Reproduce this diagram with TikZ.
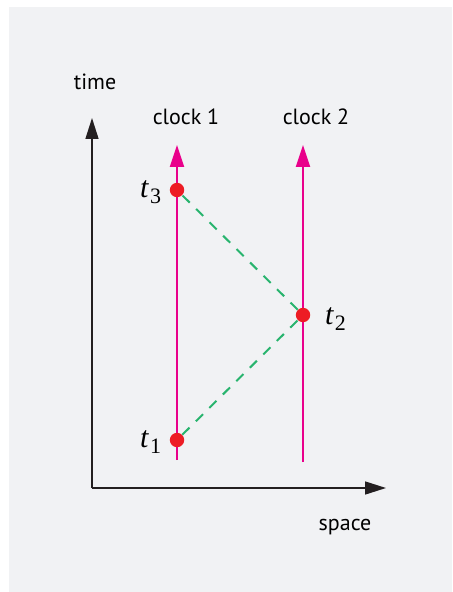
\documentclass[tikz,border=0pt]{standalone}
\usepackage{fontspec}
\setmainfont{PT Sans}
\newfontfamily\evfont{Liberation Serif}
\usepackage{tikz}
\usetikzlibrary{positioning, arrows.meta}
\definecolor{PanelGrey}{RGB}{241,242,244}
\definecolor{AxisBlack}{RGB}{35,31,32}
\definecolor{ClockPink}{RGB}{233,0,139}
\definecolor{EventRed}{RGB}{237,28,36}
\definecolor{SignalGreen}{RGB}{40,180,110}
\newcommand{\evt}[1]{{\itshape t}\kern0.8pt\raisebox{-0.45ex}{\fontsize{11}{13}\selectfont #1}}
\tikzset{
  axis/.style={-{Triangle[length=10.5pt, width=6.5pt]}, line width=0.75pt, AxisBlack},
  worldline/.style={-{Triangle[length=11pt, width=7pt]}, line width=1pt, ClockPink},
  eventdot/.style={circle, fill=EventRed, minimum size=7.2pt, inner sep=0pt},
  signal/.style={dash pattern=on 5pt off 4.5pt, line width=1pt, SignalGreen},
  axlabel/.style={font=\fontsize{11}{13}\selectfont, inner sep=0pt},
  evlabel/.style={font=\evfont\fontsize{15}{17}\selectfont, inner sep=0pt},
}

\begin{document}
\begin{tikzpicture}[x=0.5pt, y=-0.5pt]
  \useasboundingbox (0,0) rectangle (452,592);
  \fill[PanelGrey] (9,7) rectangle (452,592);

  % axes
  \coordinate (origin) at (92,488);
  \coordinate (timeend) at (92,118);
  \coordinate (spaceend) at (386,488);
  \draw[axis] (origin) -- (timeend);
  \draw[axis] (origin) -- (spaceend);
  \node[axlabel] (timelab) at (95,82) {time};
  \node[axlabel] (spacelab) at (345,527) {space};

  % clocks
  \coordinate (c1bot) at (177,460);
  \coordinate (c1top) at (177,145);
  \coordinate (c2bot) at (303,462);
  \coordinate (c2top) at (303,145);
  \draw[worldline] (c1bot) -- (c1top);
  \draw[worldline] (c2bot) -- (c2top);
  \node[axlabel] (clockA) at (186,117) {clock 1};
  \node[axlabel] (clockB) at (316,117) {clock 2};

  % events
  \node[eventdot] (ev1) at (177,440) {};
  \node[eventdot] (ev2) at (303,315) {};
  \node[eventdot] (ev3) at (177,190) {};
  \draw[signal] (ev1) -- (ev2);
  \draw[signal] (ev2) -- (ev3);
  \node[evlabel, left=4pt of ev1, yshift=-1pt] (t1lab) {\evt{1}};
  \node[evlabel, right=7pt of ev2, yshift=-2pt] (t2lab) {\evt{2}};
  \node[evlabel, left=4pt of ev3, yshift=-1pt] (t3lab) {\evt{3}};
\end{tikzpicture}
\end{document}
